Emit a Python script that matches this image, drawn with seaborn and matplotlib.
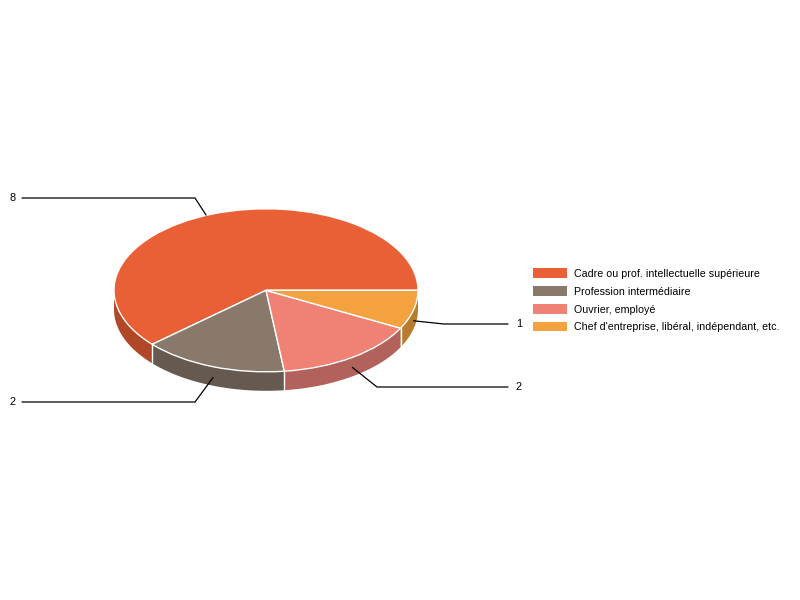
import numpy as np
import matplotlib
matplotlib.use("Agg")
import matplotlib.pyplot as plt
from matplotlib.patches import Patch
import seaborn as sns

categories = ["Cadre ou prof. intellectuelle supérieure", "Profession intermédiaire",
              "Ouvrier, employé", "Chef d'entreprise, libéral, indépendant, etc."]
values = [8, 2, 2, 1]
top_colors = ["#E95F36", "#88796B", "#EF8274", "#F4A13F"]
side_colors = ["#B04726", "#66594F", "#B2625A", "#B97C2F"]

# layout in pixels
CX, CY, RX, RY, DEPTH = 266, 290.3, 152, 81.5, 19
W, H = 800, 600
leader_elbow = [(195, 198), (195, 402), (377, 387), (444, 324)]
leader_end_x = [22, 22, 508, 508]
label_x = [13, 13, 519, 519]
anchor_nudge = [(-6, 1), (1, 11), (0, 10), (0, 11)]

sns.set_theme(style="white")
plt.rcParams["font.family"] = ["Liberation Sans", "DejaVu Sans"]

fig = plt.figure(figsize=(8, 6), dpi=100, facecolor="white")
ax = fig.add_axes([0, 0, 1, 1])

def px(x, y):
    return (x - CX) / RX, (CY - y) / RY

depth = DEPTH / RY
fracs = np.array(values) / np.sum(values)
edges = np.concatenate([[0], np.cumsum(fracs)]) * 360

# side wall: only the front half (180..360 degrees) is visible
for a0, a1, col in zip(edges[:-1], edges[1:], side_colors):
    lo, hi = max(a0, 180), min(a1, 360)
    if hi <= lo:
        continue
    t = np.radians(np.linspace(lo, hi, 120))
    xs = np.cos(t)
    ys = np.sin(t)
    ax.fill(np.r_[xs, xs[::-1]], np.r_[ys, ys[::-1] - depth], color=col, lw=0, zorder=1)

for a in edges[1:-1]:
    if 180 < a < 360:
        t = np.radians(a)
        ax.plot([np.cos(t)] * 2, [np.sin(t), np.sin(t) - depth], color="white", lw=1, zorder=2)

wedges, _ = ax.pie(values, colors=top_colors, startangle=0, counterclock=True,
                   wedgeprops=dict(edgecolor="white", linewidth=1))
for w in wedges:
    w.set_zorder(3)

ax.set_aspect("auto")
ax.set_xlim(px(0, 0)[0], px(W, 0)[0])
ax.set_ylim(px(0, H)[1], px(0, 0)[1])
ax.axis("off")

# leader lines and value labels
mids = (edges[:-1] + edges[1:]) / 2
for i, (v, m) in enumerate(zip(values, mids)):
    t = np.radians(m)
    ax0, ay0 = CX + RX * np.cos(t) + anchor_nudge[i][0], CY - RY * np.sin(t) + anchor_nudge[i][1]
    ex, ey = leader_elbow[i]
    pts = [px(ax0, ay0), px(ex, ey), px(leader_end_x[i], ey)]
    ax.plot(*zip(*pts), color="black", lw=0.9, zorder=4, solid_joinstyle="miter")
    ax.text(*px(label_x[i], ey), str(v), ha="center", va="center", fontsize=7.9, color="black", zorder=5)

handles = [Patch(facecolor=c, edgecolor="none") for c in top_colors]
fs = 7.7
fpx = fs / 0.72
fig.legend(handles, categories, loc="center left", bbox_to_anchor=(533 / W, 1 - 300.4 / H),
           frameon=False, fontsize=fs, borderpad=0, borderaxespad=0,
           handlelength=34 / fpx, handleheight=10.5 / fpx, handletextpad=7 / fpx,
           labelspacing=0.7, labelcolor="black")

fig.savefig("out.png", dpi=100, facecolor="white")
